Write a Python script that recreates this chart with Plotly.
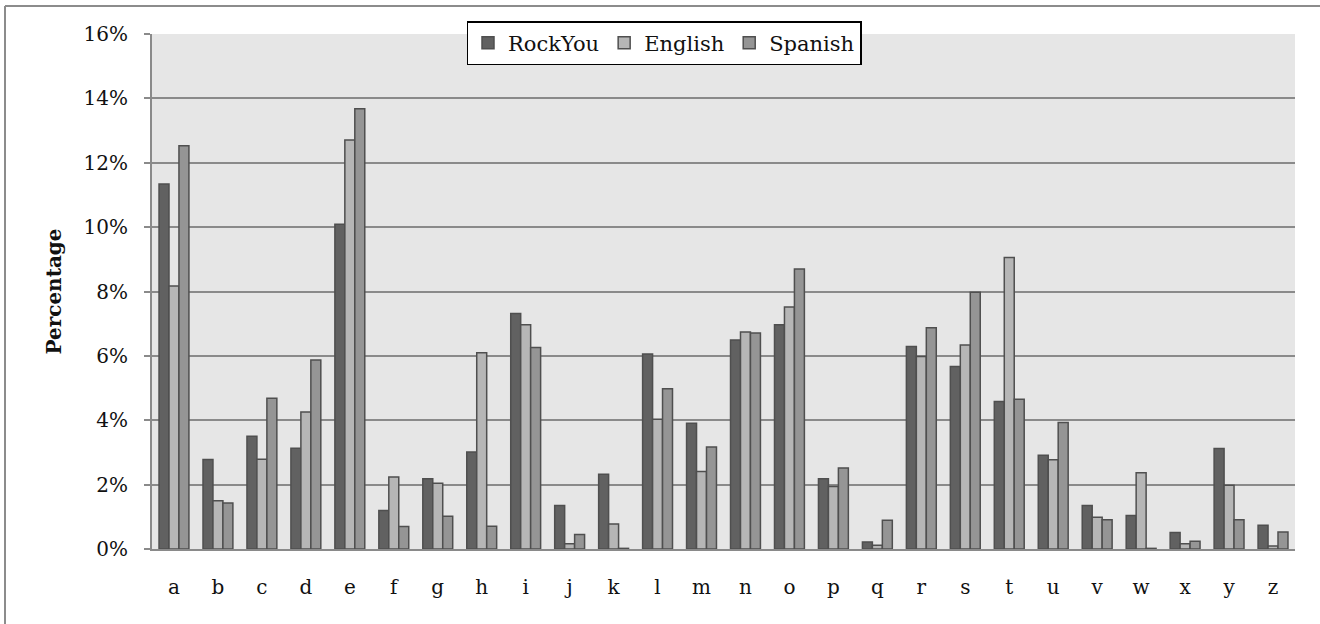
import plotly.graph_objects as go

letters = list("abcdefghijklmnopqrstuvwxyz")

rockyou = [11.34, 2.78, 3.50, 3.13, 10.09, 1.20, 2.18, 3.01, 7.32, 1.35, 2.32, 6.06, 3.91,
           6.49, 6.97, 2.18, 0.22, 6.29, 5.67, 4.58, 2.91, 1.35, 1.04, 0.51, 3.12, 0.74]
english = [8.17, 1.50, 2.79, 4.26, 12.71, 2.24, 2.04, 6.10, 6.97, 0.16, 0.78, 4.03, 2.41,
           6.74, 7.52, 1.94, 0.12, 5.98, 6.34, 9.06, 2.77, 0.99, 2.37, 0.16, 1.98, 0.09]
spanish = [12.53, 1.43, 4.68, 5.87, 13.68, 0.70, 1.02, 0.71, 6.26, 0.45, 0.02, 4.98, 3.17,
           6.71, 8.70, 2.52, 0.89, 6.87, 7.98, 4.65, 3.93, 0.91, 0.02, 0.24, 0.91, 0.53]

y_ticks = [0, 2, 4, 6, 8, 10, 12, 14, 16]
y_tick_text = [f"{v}%" for v in y_ticks]

series = [
    ("RockYou", rockyou, "#616161"),
    ("English", english, "#b6b6b6"),
    ("Spanish", spanish, "#959595"),
]

FONT = "DejaVu Serif"

fig = go.Figure()
for name, vals, color in series:
    fig.add_trace(go.Bar(
        x=letters, y=vals, name=name,
        marker=dict(color=color, line=dict(color="#4f4f4f", width=1.5)),
    ))

W, H = 1320, 624
L, R, T, B = 152, 25, 34, 75
pw, ph = W - L - R, H - T - B

def px_to_paper_x(px):
    return (px - L) / pw

def px_to_paper_y(py):
    return (H - B - py) / ph

fig.update_layout(
    width=W, height=H,
    margin=dict(l=L, r=R, t=T, b=B),
    paper_bgcolor="white",
    plot_bgcolor="#e6e6e6",
    barmode="group",
    bargap=0.32,
    bargroupgap=0,
    font=dict(family=FONT, color="#111111", size=20),
    legend=dict(
        orientation="h",
        x=px_to_paper_x(664), xanchor="center",
        y=px_to_paper_y(21), yanchor="top",
        bgcolor="white",
        bordercolor="black", borderwidth=1.5,
        font=dict(family=FONT, size=21, color="#111111"),
        itemwidth=30,
        tracegroupgap=0,
    ),
    xaxis=dict(
        showline=True, linecolor="#8a8a8a", linewidth=2,
        ticks="", showgrid=False,
        tickfont=dict(family=FONT, size=20),
        ticklabelstandoff=19,
    ),
    yaxis=dict(
        range=[0, 16],
        tickvals=y_ticks, ticktext=y_tick_text,
        showline=True, linecolor="#8a8a8a", linewidth=2,
        ticks="outside", ticklen=6, tickcolor="#8a8a8a", tickwidth=2,
        showgrid=True, gridcolor="#8a8a8a", gridwidth=1.5,
        zeroline=False,
        tickfont=dict(family=FONT, size=20),
        ticklabelstandoff=12,
        title=dict(text="<b>Percentage</b>", font=dict(family=FONT, size=20), standoff=17),
    ),
    shapes=[
        # chart frame (left and top edges visible)
        dict(type="line", xref="paper", yref="paper",
             x0=px_to_paper_x(5), x1=px_to_paper_x(5),
             y0=px_to_paper_y(6), y1=px_to_paper_y(640),
             line=dict(color="#8c8c8c", width=2)),
        dict(type="line", xref="paper", yref="paper",
             x0=px_to_paper_x(5), x1=px_to_paper_x(1340),
             y0=px_to_paper_y(6), y1=px_to_paper_y(6),
             line=dict(color="#8c8c8c", width=2)),
    ],
)

fig.write_html("out.html")
